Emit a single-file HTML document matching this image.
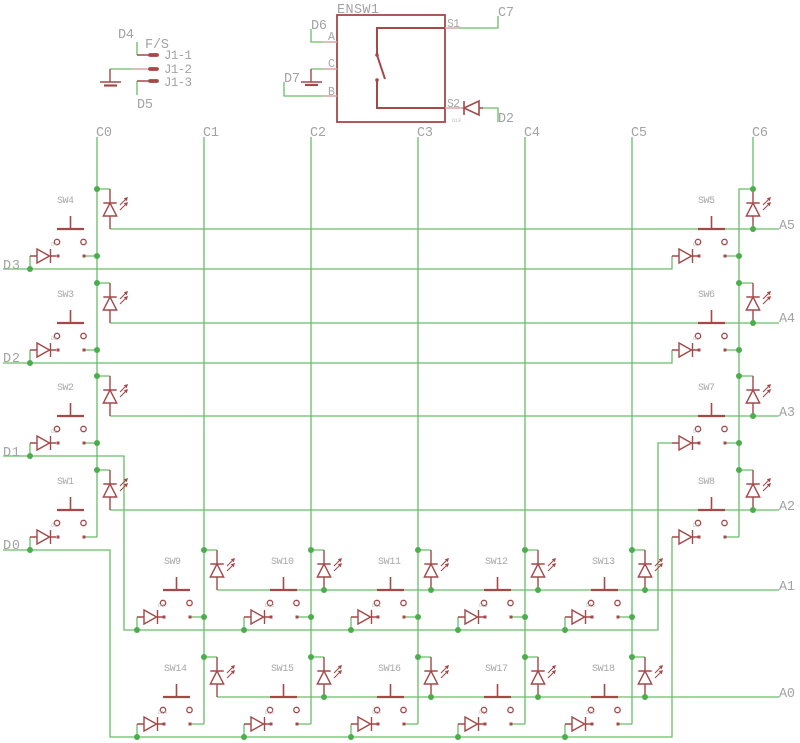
<!DOCTYPE html>
<html><head><meta charset="utf-8"><style>
html,body{margin:0;padding:0;background:#fff}
svg{display:block}
.g{stroke:#69bd69;stroke-width:1.3;fill:none}
.r{stroke:#a44848;stroke-width:1.4;fill:none}
.lr{stroke:#d6a6a6;stroke-width:1.4;fill:none}
.t{font-family:"Liberation Mono",monospace;fill:#a3a3a3;font-size:13.5px}
.s{font-family:"Liberation Mono",monospace;fill:#a8a8a8;font-size:10px}
.x{font-family:"Liberation Mono",monospace;fill:#bbbbbb;font-size:5px}
.d{fill:#4cad4c}
</style></head><body>
<svg width="800" height="743" viewBox="0 0 800 743" xmlns="http://www.w3.org/2000/svg">
<defs>
<g id="led">
<path class="r" d="M0 0V14M0 27V40M-6.7 14H6.7M0 14L-6.7 27H6.7Z"/>
<path class="r" style="stroke-width:1.1" d="M10 16L16 10M10 21L16 15"/>
<path fill="#a44848" d="M18 8l-4.2 1.3 2.9 2.9zM18 13l-4.2 1.3 2.9 2.9z"/>
</g>
<g id="sw">
<path class="r" style="stroke-width:2.2" d="M0 0H27"/>
<path class="r" style="stroke-width:1.6" d="M13.5 -13V0"/>
<circle class="r" style="stroke-width:1.3" cx="0" cy="13" r="2.7"/>
<circle class="r" style="stroke-width:1.3" cx="26.5" cy="13" r="2.7"/>
<rect x="-0.5" y="25.5" width="3" height="3" fill="#a44848"/>
<rect x="25.5" y="25.5" width="3" height="3" fill="#a44848"/>
</g>
<g id="di">
<path class="r" d="M0 0H7M20.5 0H26M7 -7V7L19.5 0ZM20.5 -7V7"/>
</g>
</defs>

<!-- ===== top: J1 ===== -->
<path class="g" d="M137 42V55M110 69H132M137 81V95"/>
<path class="r" d="M137 55H149M137 81H149M110 69V82"/>
<path class="lr" d="M132 69H149"/>
<path class="r" style="stroke-width:3.8;stroke-linecap:round" d="M150 55H157M150 69H157M150 81H157"/>
<path class="r" style="stroke-width:1.5" d="M100 82H121"/>
<path class="r" style="stroke-width:2.2" d="M104 85.5H117"/>
<text class="t" x="118" y="38" textLength="16">D4</text>
<text class="t" x="145" y="48" textLength="24">F/S</text>
<text class="t" x="164" y="59" style="font-size:12.5px" textLength="28">J1-1</text>
<text class="t" x="164" y="73" style="font-size:12.5px" textLength="28">J1-2</text>
<text class="t" x="164" y="86" style="font-size:12.5px" textLength="28">J1-3</text>
<text class="t" x="137" y="108" textLength="16">D5</text>

<!-- ===== top: ENSW1 ===== -->
<rect x="337" y="15" width="108" height="107" fill="none" stroke="#a44848" stroke-width="1.8"/>
<path class="r" style="stroke-width:2" d="M445 28H377V55M377 55L385 79M377 80V108H445"/>
<circle cx="377" cy="55" r="1.8" fill="#a44848"/>
<circle cx="377" cy="80" r="1.8" fill="#a44848"/>
<path class="lr" d="M445 28H459M445 108H464M323 42H337M323 69H337M323 96H337"/>
<path class="g" d="M459 28H498V16M483 108H498V122M311 29V42H323M311 69H323M284 82V96H323"/>
<path class="r" style="stroke-width:1.6" d="M464 108L479 101V115ZM464 101V115M479 108H483"/>
<path class="r" d="M311 69V82"/>
<path class="r" style="stroke-width:1.5" d="M301 82H322"/>
<path class="r" style="stroke-width:2.2" d="M305 85H318"/>
<text class="t" x="337" y="13" textLength="42">ENSW1</text>
<text class="t" x="498" y="16" textLength="16">C7</text>
<text class="t" x="498" y="122" textLength="16">D2</text>
<text class="t" x="311" y="29" textLength="16">D6</text>
<text class="t" x="284" y="82" textLength="16">D7</text>
<text class="s" x="447" y="27" style="font-size:11.5px" textLength="13">S1</text>
<text class="s" x="447" y="107" style="font-size:11.5px" textLength="13">S2</text>
<text class="s" x="328" y="40" style="font-size:11.5px">A</text>
<text class="s" x="328" y="67" style="font-size:11.5px">C</text>
<text class="s" x="328" y="95" style="font-size:11.5px">B</text>
<text class="x" x="452" y="122">D19</text>

<!-- ===== column lines ===== -->
<path class="g" d="M97 137V537M204 137V724M311 137V724M418 137V724M525 137V724M632 137V724M753 137V189H739V537"/>
<text class="t" x="96" y="136" textLength="16">C0</text>
<text class="t" x="203" y="136" textLength="16">C1</text>
<text class="t" x="310" y="136" textLength="16">C2</text>
<text class="t" x="417" y="136" textLength="16">C3</text>
<text class="t" x="524" y="136" textLength="16">C4</text>
<text class="t" x="631" y="136" textLength="16">C5</text>
<text class="t" x="752" y="136" textLength="16">C6</text>

<!-- ===== left + right blocks wires ===== -->
<path class="g" d="
M97 189H110M110 229H779M84 256H97M30 256V269M3 269H672V256
M97 283H110M110 323H779M84 350H97M30 350V363M3 363H672V350
M97 376H110M110 416H779M84 443H97M30 443V456M3 456H124V630H658V443H672
M97 470H110M110 510H779M84 537H97M30 537V550M3 550H110V737H672V537
M726 256H739M739 283H753M726 350H739M739 376H753M726 443H739M739 470H753M726 537H739
"/>
<!-- bottom blocks wires -->
<path class="g" d="
M217 590H779M217 697H779
M204 550H217M190 617H204M137 617V630
M311 550H324M297 617H311M244 617V630
M418 550H431M404 617H418M351 617V630
M525 550H538M511 617H525M458 617V630
M632 550H645M618 617H632M565 617V630
M204 657H217M190 724H204M137 724V737
M311 657H324M297 724H311M244 724V737
M418 657H431M404 724H418M351 724V737
M525 657H538M511 724H525M458 724V737
M632 657H645M618 724H632M565 724V737
"/>

<!-- ===== components: left ===== -->
<use href="#led" x="110" y="189"/><use href="#sw" x="57" y="229"/><use href="#di" x="30" y="256"/>
<use href="#led" x="110" y="283"/><use href="#sw" x="57" y="323"/><use href="#di" x="30" y="350"/>
<use href="#led" x="110" y="376"/><use href="#sw" x="57" y="416"/><use href="#di" x="30" y="443"/>
<use href="#led" x="110" y="470"/><use href="#sw" x="57" y="510"/><use href="#di" x="30" y="537"/>
<!-- right -->
<use href="#led" x="753" y="189"/><use href="#sw" x="698" y="229"/><use href="#di" x="672" y="256"/>
<use href="#led" x="753" y="283"/><use href="#sw" x="698" y="323"/><use href="#di" x="672" y="350"/>
<use href="#led" x="753" y="376"/><use href="#sw" x="698" y="416"/><use href="#di" x="672" y="443"/>
<use href="#led" x="753" y="470"/><use href="#sw" x="698" y="510"/><use href="#di" x="672" y="537"/>
<!-- bottom row 1 -->
<use href="#led" x="217" y="550"/><use href="#sw" x="163" y="590"/><use href="#di" x="137" y="617"/>
<use href="#led" x="324" y="550"/><use href="#sw" x="270" y="590"/><use href="#di" x="244" y="617"/>
<use href="#led" x="431" y="550"/><use href="#sw" x="377" y="590"/><use href="#di" x="351" y="617"/>
<use href="#led" x="538" y="550"/><use href="#sw" x="484" y="590"/><use href="#di" x="458" y="617"/>
<use href="#led" x="645" y="550"/><use href="#sw" x="591" y="590"/><use href="#di" x="565" y="617"/>
<!-- bottom row 2 -->
<use href="#led" x="217" y="657"/><use href="#sw" x="163" y="697"/><use href="#di" x="137" y="724"/>
<use href="#led" x="324" y="657"/><use href="#sw" x="270" y="697"/><use href="#di" x="244" y="724"/>
<use href="#led" x="431" y="657"/><use href="#sw" x="377" y="697"/><use href="#di" x="351" y="724"/>
<use href="#led" x="538" y="657"/><use href="#sw" x="484" y="697"/><use href="#di" x="458" y="724"/>
<use href="#led" x="645" y="657"/><use href="#sw" x="591" y="697"/><use href="#di" x="565" y="724"/>

<!-- ===== junction dots ===== -->
<g class="d">
<circle cx="97" cy="189" r="3"/><circle cx="97" cy="256" r="3"/><circle cx="30" cy="269" r="3"/>
<circle cx="97" cy="283" r="3"/><circle cx="97" cy="350" r="3"/><circle cx="30" cy="363" r="3"/>
<circle cx="97" cy="376" r="3"/><circle cx="97" cy="443" r="3"/><circle cx="30" cy="456" r="3"/>
<circle cx="97" cy="470" r="3"/><circle cx="30" cy="550" r="3"/>
<circle cx="753" cy="189" r="3"/><circle cx="753" cy="229" r="3"/><circle cx="739" cy="256" r="3"/>
<circle cx="739" cy="283" r="3"/><circle cx="753" cy="323" r="3"/><circle cx="739" cy="350" r="3"/>
<circle cx="739" cy="376" r="3"/><circle cx="753" cy="416" r="3"/><circle cx="739" cy="443" r="3"/>
<circle cx="739" cy="470" r="3"/><circle cx="753" cy="510" r="3"/>
<circle cx="204" cy="550" r="3"/><circle cx="204" cy="617" r="3"/><circle cx="137" cy="630" r="3"/>
<circle cx="311" cy="550" r="3"/><circle cx="324" cy="590" r="3"/><circle cx="311" cy="617" r="3"/><circle cx="244" cy="630" r="3"/>
<circle cx="418" cy="550" r="3"/><circle cx="431" cy="590" r="3"/><circle cx="418" cy="617" r="3"/><circle cx="351" cy="630" r="3"/>
<circle cx="525" cy="550" r="3"/><circle cx="538" cy="590" r="3"/><circle cx="525" cy="617" r="3"/><circle cx="458" cy="630" r="3"/>
<circle cx="632" cy="550" r="3"/><circle cx="645" cy="590" r="3"/><circle cx="632" cy="617" r="3"/><circle cx="565" cy="630" r="3"/>
<circle cx="204" cy="657" r="3"/><circle cx="137" cy="737" r="3"/>
<circle cx="311" cy="657" r="3"/><circle cx="324" cy="697" r="3"/><circle cx="244" cy="737" r="3"/>
<circle cx="418" cy="657" r="3"/><circle cx="431" cy="697" r="3"/><circle cx="351" cy="737" r="3"/>
<circle cx="525" cy="657" r="3"/><circle cx="538" cy="697" r="3"/><circle cx="458" cy="737" r="3"/>
<circle cx="632" cy="657" r="3"/><circle cx="645" cy="697" r="3"/><circle cx="565" cy="737" r="3"/>
</g>

<!-- ===== net labels ===== -->
<text class="t" x="3" y="269" textLength="17">D3</text>
<text class="t" x="3" y="362" textLength="17">D2</text>
<text class="t" x="3" y="456" textLength="17">D1</text>
<text class="t" x="3" y="549" textLength="17">D0</text>
<text class="t" x="779" y="229" textLength="16">A5</text>
<text class="t" x="779" y="322" textLength="16">A4</text>
<text class="t" x="779" y="416" textLength="16">A3</text>
<text class="t" x="779" y="510" textLength="16">A2</text>
<text class="t" x="779" y="590" textLength="16">A1</text>
<text class="t" x="779" y="697" textLength="16">A0</text>

<!-- ===== switch labels ===== -->
<text class="s" x="57" y="203" textLength="17">SW4</text>
<text class="s" x="57" y="297" textLength="17">SW3</text>
<text class="s" x="57" y="390" textLength="17">SW2</text>
<text class="s" x="57" y="484" textLength="17">SW1</text>
<text class="s" x="698" y="203" textLength="17">SW5</text>
<text class="s" x="698" y="297" textLength="17">SW6</text>
<text class="s" x="698" y="390" textLength="17">SW7</text>
<text class="s" x="698" y="484" textLength="17">SW8</text>
<text class="s" x="164" y="564" textLength="17">SW9</text>
<text class="s" x="271" y="564" textLength="23">SW10</text>
<text class="s" x="378" y="564" textLength="23">SW11</text>
<text class="s" x="485" y="564" textLength="23">SW12</text>
<text class="s" x="592" y="564" textLength="23">SW13</text>
<text class="s" x="164" y="671" textLength="23">SW14</text>
<text class="s" x="271" y="671" textLength="23">SW15</text>
<text class="s" x="378" y="671" textLength="23">SW16</text>
<text class="s" x="485" y="671" textLength="23">SW17</text>
<text class="s" x="592" y="671" textLength="23">SW18</text>

<!-- tiny diode labels -->
<text class="x" x="51" y="246">D4</text>
<text class="x" x="51" y="340">D3</text>
<text class="x" x="51" y="433">D2</text>
<text class="x" x="51" y="527">D1</text>
<text class="x" x="693" y="246">D5</text>
<text class="x" x="693" y="340">D6</text>
<text class="x" x="693" y="433">D7</text>
<text class="x" x="693" y="527">D8</text>
<text class="x" x="158" y="607">D9</text>
<text class="x" x="265" y="607">D10</text>
<text class="x" x="372" y="607">D11</text>
<text class="x" x="479" y="607">D12</text>
<text class="x" x="586" y="607">D13</text>
<text class="x" x="158" y="714">D14</text>
<text class="x" x="265" y="714">D15</text>
<text class="x" x="372" y="714">D16</text>
<text class="x" x="479" y="714">D17</text>
<text class="x" x="586" y="714">D18</text>
</svg>
</body></html>
